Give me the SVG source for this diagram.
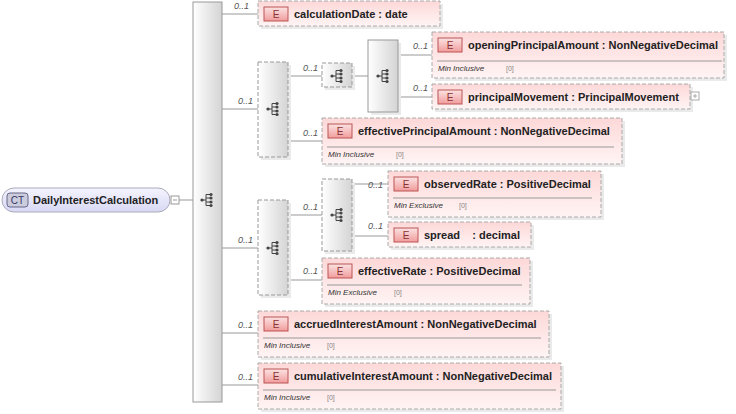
<svg xmlns="http://www.w3.org/2000/svg" width="736" height="414" viewBox="0 0 736 414">
<defs>
<linearGradient id="gs" x1="0" x2="1" y1="0" y2="0"><stop offset="0" stop-color="#ffffff"/><stop offset="1" stop-color="#d4d4d4"/></linearGradient>
<linearGradient id="ge" x1="0" x2="0" y1="0" y2="1"><stop offset="0" stop-color="#fdd8d8"/><stop offset="1" stop-color="#fff4f4"/></linearGradient>
<linearGradient id="gb" x1="0" x2="0" y1="0" y2="1"><stop offset="0" stop-color="#fbe3e3"/><stop offset="1" stop-color="#f19c9c"/></linearGradient>
<linearGradient id="gct" x1="0" x2="0" y1="0" y2="1"><stop offset="0" stop-color="#f4f4ff"/><stop offset="1" stop-color="#d8d8f4"/></linearGradient>
<g id="ic"><line x1="-5" y1="0" x2="-1" y2="0" stroke="#444"/><circle cx="-5" cy="0" r="1.6" fill="#444"/><path d="M-1 -5.5V5.5M-1 -5.5H4M-1 -2H4M-1 2H4M-1 5.5H4" stroke="#444" fill="none"/><circle cx="4" cy="-5.5" r="1.6" fill="#444"/><circle cx="4" cy="-2" r="1.6" fill="#444"/><circle cx="4" cy="2" r="1.6" fill="#444"/><circle cx="4" cy="5.5" r="1.6" fill="#444"/></g>
</defs>
<style>
text{font-family:"Liberation Sans",Arial,sans-serif}
.n{font-size:11px;font-weight:bold;fill:#222}
.m{font-size:9px;font-style:italic;fill:#555}
.f{font-size:8px;font-style:italic;fill:#333}
.v{font-size:7px;fill:#888}
.eb{fill:url(#ge);stroke:#aaa;stroke-dasharray:4 2}
.sh{fill:#eaeaea}
.bd{fill:url(#gb);stroke:#b55}
.bt{font-size:10px;fill:#833}
.sq{fill:url(#gs);stroke:#999}
.sqd{fill:url(#gs);stroke:#999;stroke-dasharray:4 2}
.c{stroke:#999;fill:none}
.sep{stroke:#999}
</style>
<g id="connectors">
<path class="c" d="M179 200H193M222 14H258M222 109H258M222 248H258M222 333H258M222 385H258M288 76H322M352 76H368M398 55H432M398 97H432M288 141H322M288 215H322M352 184H388M352 236H388M288 280H322"/>
<text class="m" x="234" y="9">0..1</text>
<text class="m" x="238" y="104">0..1</text>
<text class="m" x="238" y="243">0..1</text>
<text class="m" x="238" y="328">0..1</text>
<text class="m" x="238" y="380">0..1</text>
<text class="m" x="303" y="71">0..1</text>
<text class="m" x="413" y="49">0..1</text>
<text class="m" x="413" y="91">0..1</text>
<text class="m" x="303" y="136">0..1</text>
<text class="m" x="303" y="210">0..1</text>
<text class="m" x="368" y="188">0..1</text>
<text class="m" x="368" y="229">0..1</text>
<text class="m" x="303" y="274">0..1</text>
</g>
<g id="ct">
<rect x="2" y="188" width="168" height="24" rx="12" fill="url(#gct)" stroke="#aab"/>
<rect x="7" y="193" width="21" height="14" rx="3" fill="#ccd" stroke="#668"/>
<text x="17.5" y="204" font-size="10" text-anchor="middle" fill="#336">CT</text>
<text class="n" x="33" y="204">DailyInterestCalculation</text>
<rect x="171" y="196" width="8" height="8" fill="#fff" stroke="#999"/><line x1="173" y1="200" x2="177" y2="200" stroke="#999"/>
</g>
<g id="seq0"><rect class="sq" x="193" y="2" width="29" height="400"/><use href="#ic" x="207" y="200"/></g>
<g id="seq1"><rect class="sh" x="261" y="65" width="30" height="95"/><rect class="sqd" x="258" y="62" width="30" height="95"/><use href="#ic" x="273" y="109"/></g>
<g id="seq1a"><rect class="sh" x="325" y="66" width="30" height="24"/><rect class="sqd" x="322" y="63" width="30" height="24"/><use href="#ic" x="337" y="76"/></g>
<g id="seq1b"><rect class="sh" x="371" y="43" width="30" height="72"/><rect class="sq" x="368" y="40" width="30" height="72"/><use href="#ic" x="383" y="76"/></g>
<g id="seq2"><rect class="sh" x="261" y="203" width="30" height="95"/><rect class="sqd" x="258" y="200" width="30" height="95"/><use href="#ic" x="273" y="248"/></g>
<g id="seq2a"><rect class="sh" x="325" y="182" width="30" height="72"/><rect class="sqd" x="322" y="179" width="30" height="72"/><use href="#ic" x="337" y="215"/></g>

<g id="calculationDate"><rect class="sh" x="261" y="4" width="182" height="25"/><rect class="eb" x="258" y="1" width="182" height="25"/><rect class="bd" x="264" y="7" width="24" height="14"/><text class="bt" x="276" y="18" text-anchor="middle">E</text><text class="n" x="294" y="18">calculationDate  : date</text></g>

<g id="openingPrincipalAmount"><rect class="sh" x="435" y="35" width="292" height="46"/><rect class="eb" x="432" y="32" width="292" height="46"/><rect class="bd" x="438" y="38" width="24" height="14"/><text class="bt" x="450" y="49" text-anchor="middle">E</text><text class="n" x="468" y="49">openingPrincipalAmount  : NonNegativeDecimal</text><line class="sep" x1="437" y1="61" x2="722" y2="61"/><text class="f" x="438" y="71">Min Inclusive</text><text class="v" x="506" y="71">[0]</text></g>

<g id="principalMovement"><rect class="sh" x="435" y="87" width="258" height="25"/><rect class="eb" x="432" y="84" width="258" height="25"/><rect class="bd" x="438" y="90" width="24" height="14"/><text class="bt" x="450" y="101" text-anchor="middle">E</text><text class="n" x="468" y="101">principalMovement  : PrincipalMovement</text><rect x="691" y="92" width="8" height="8" fill="#fff" stroke="#aaa"/><path d="M693 96H697M695 94V98" stroke="#aaa"/></g>

<g id="effectivePrincipalAmount"><rect class="sh" x="325" y="121" width="300" height="46"/><rect class="eb" x="322" y="118" width="300" height="46"/><rect class="bd" x="328" y="124" width="24" height="14"/><text class="bt" x="340" y="135" text-anchor="middle">E</text><text class="n" x="358" y="135">effectivePrincipalAmount  : NonNegativeDecimal</text><line class="sep" x1="327" y1="147" x2="614" y2="147"/><text class="f" x="328" y="157">Min Inclusive</text><text class="v" x="396" y="157">[0]</text></g>

<g id="observedRate"><rect class="sh" x="391" y="174" width="213" height="46"/><rect class="eb" x="388" y="171" width="213" height="46"/><rect class="bd" x="394" y="177" width="24" height="14"/><text class="bt" x="406" y="188" text-anchor="middle">E</text><text class="n" x="424" y="188">observedRate  : PositiveDecimal</text><line class="sep" x1="393" y1="198" x2="592" y2="198"/><text class="f" x="394" y="208">Min Exclusive</text><text class="v" x="459" y="208">[0]</text></g>

<g id="spread"><rect class="sh" x="391" y="225" width="143" height="25"/><rect class="eb" x="388" y="222" width="143" height="25"/><rect class="bd" x="394" y="228" width="24" height="14"/><text class="bt" x="406" y="239" text-anchor="middle">E</text><text class="n" x="424" y="239" xml:space="preserve">spread    : decimal</text></g>

<g id="effectiveRate"><rect class="sh" x="325" y="261" width="208" height="46"/><rect class="eb" x="322" y="258" width="208" height="46"/><rect class="bd" x="328" y="264" width="24" height="14"/><text class="bt" x="340" y="275" text-anchor="middle">E</text><text class="n" x="358" y="275">effectiveRate  : PositiveDecimal</text><line class="sep" x1="327" y1="285" x2="522" y2="285"/><text class="f" x="328" y="295">Min Exclusive</text><text class="v" x="394" y="295">[0]</text></g>

<g id="accruedInterestAmount"><rect class="sh" x="261" y="314" width="291" height="46"/><rect class="eb" x="258" y="311" width="291" height="46"/><rect class="bd" x="264" y="317" width="24" height="14"/><text class="bt" x="276" y="328" text-anchor="middle">E</text><text class="n" x="294" y="328">accruedInterestAmount  : NonNegativeDecimal</text><line class="sep" x1="263" y1="338" x2="541" y2="338"/><text class="f" x="264" y="348">Min Inclusive</text><text class="v" x="327" y="348">[0]</text></g>

<g id="cumulativeInterestAmount"><rect class="sh" x="261" y="366" width="303" height="46"/><rect class="eb" x="258" y="363" width="303" height="46"/><rect class="bd" x="264" y="369" width="24" height="14"/><text class="bt" x="276" y="380" text-anchor="middle">E</text><text class="n" x="294" y="380">cumulativeInterestAmount  : NonNegativeDecimal</text><line class="sep" x1="263" y1="390" x2="556" y2="390"/><text class="f" x="264" y="400">Min Inclusive</text><text class="v" x="327" y="400">[0]</text></g>
</svg>
